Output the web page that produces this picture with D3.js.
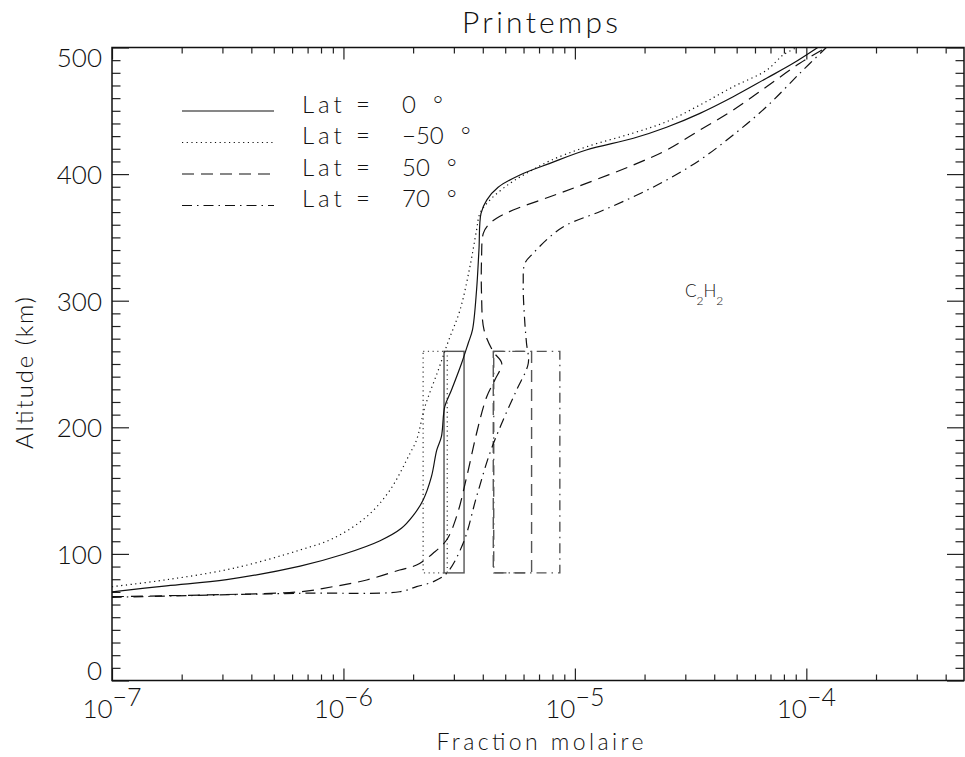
<!doctype html>
<html>
<head>
<meta charset="utf-8">
<title>Printemps - C2H2</title>
<script src="https://d3js.org/d3.v7.min.js"></script>
<style>
  body { margin: 0; background: #fff; }
  text { font-family: Lato, "DejaVu Sans", sans-serif; font-weight: 300; fill: #111; }
</style>
</head>
<body>
<svg width="965" height="757"></svg>
<script>

// Lat = 0 (solid)
var frac0 = [1.0e-7, 1.72e-7, 3.13e-7, 6.5e-7, 1.0e-6, 1.44e-6, 1.78e-6, 2.0e-6, 2.21e-6, 2.40e-6,
             2.53e-6, 2.65e-6, 2.74e-6, 2.93e-6, 3.24e-6, 3.46e-6, 3.61e-6, 3.76e-6, 3.85e-6, 3.93e-6,
             4.16e-6, 4.66e-6, 5.79e-6, 7.8e-6, 1.12e-5, 1.79e-5, 2.49e-5, 3.47e-5, 4.83e-5, 6.73e-5,
             8.77e-5, 1.12e-4];
var alt0  = [70, 74.8, 79.7, 90.4, 99.7, 110.4, 120.2, 130.2, 142.6, 161,
             182, 192.6, 216.3, 229.5, 250.6, 266.4, 276.9, 308.5, 340, 369,
             379.5, 389.6, 399.3, 408.5, 419, 428.3, 437, 448, 461.1, 475.7,
             487.5, 500];

// Lat = -50 (dotted)
var fracM50 = [1.0e-7, 1.72e-7, 3.34e-7, 6.5e-7, 9.04e-7, 1.26e-6, 1.59e-6, 1.94e-6, 2.07e-6, 2.25e-6,
               2.57e-6, 2.84e-6, 3.19e-6, 3.52e-6, 3.76e-6, 3.89e-6, 4.29e-6, 5.24e-6, 6.18e-6, 7.8e-6,
               1.12e-5, 1.79e-5, 2.49e-5, 3.47e-5, 4.83e-5, 6.73e-5, 7.94e-5, 9.1e-5];
var altM50  = [74.1, 79.6, 88.6, 103.1, 112.3, 129.4, 150.5, 179.5, 190, 216.3,
               245.3, 268, 292.7, 326.9, 355.8, 369, 379.5, 392.7, 400.6, 410.5,
               421.5, 432.5, 441.4, 454.6, 469, 482, 494.1, 500];

// Lat = 50 (dashed)
var frac50 = [1.0e-7, 2.4e-7, 6.5e-7, 9.0e-7, 1.26e-6, 1.75e-6, 2.07e-6, 2.44e-6, 2.79e-6, 3.08e-6,
              3.41e-6, 3.76e-6, 4.16e-6, 4.51e-6, 4.83e-6, 4.44e-6, 4.05e-6, 3.95e-6, 3.95e-6, 4.02e-6,
              4.22e-6, 4.59e-6, 5.41e-6, 7.8e-6, 1.12e-5, 1.79e-5, 2.49e-5, 3.47e-5, 4.83e-5,
              6.73e-5, 9.37e-5, 1.22e-4];
var alt50  = [66.2, 67.5, 70.1, 74.1, 79.4, 87.3, 91.2, 100.5, 111, 129.4,
              161, 195.3, 224.2, 237.4, 250.6, 259.7, 276.9, 305.8, 332.1, 353.2,
              359.8, 365.1, 371.6, 382.1, 392.7, 407.2, 419, 434.8, 450.6,
              469, 487.5, 500];

// Lat = 70 (dash-dot)
var frac70 = [1.0e-7, 6.5e-7, 1.75e-6, 2.07e-6, 2.44e-6, 2.79e-6, 3.29e-6, 3.76e-6, 4.29e-6, 4.90e-6,
              5.60e-6, 6.29e-6, 6.18e-6, 6.08e-6, 5.98e-6, 6.08e-6, 6.6e-6, 7.8e-6, 9.2e-6, 1.28e-5,
              1.79e-5, 2.49e-5, 3.47e-5, 4.83e-5, 6.73e-5, 9.37e-5, 1.22e-4];
var alt70  = [65.7, 68.9, 70.1, 74.1, 78, 84.7, 108.4, 145.2, 179.5, 205.8,
              229.5, 250.6, 266.4, 282.1, 313.7, 329.5, 337.4, 350.5, 359.8, 370.3,
              382.1, 395.3, 411.1, 430.9, 453.2, 479.6, 500];

// legend labels and observation boxes (same order: 0, -50, 50, 70)
var latLabels = ["0", "\u221250", "50", "70"];
var boxLow  = [2.72e-6, 2.21e-6, 4.44e-6, 4.46e-6];
var boxHigh = [3.32e-6, 2.81e-6, 6.50e-6, 8.61e-6];
var boxAlt  = [85, 260];

var xMajor = [1e-7, 1e-6, 1e-5, 1e-4];
var xExpo  = ["\u22127", "\u22126", "\u22125", "\u22124"];
var yMajor = [0, 100, 200, 300, 400, 500];

var series = [
    d3.zip(frac0, alt0),
    d3.zip(fracM50, altM50),
    d3.zip(frac50, alt50),
    d3.zip(frac70, alt70)
];
var dashes = [null, "1.2,3.5", "12,7", "10,5,1.5,5"];

var svg = d3.select("svg"),
    pLeft = 112, pRight = 964, pTop = 47.5, pBottom = 680.5;

var x = d3.scaleLog().domain([1e-7, 4.8e-4]).range([pLeft, pRight]);
var y = d3.scaleLinear().domain([0, 500]).range([pBottom, pTop]);

// tick values
var xMinor = [];
for (var e = -7; e <= -4; e++) {
    for (var m = 2; m <= 9; m++) {
        var v = m * Math.pow(10, e);
        if (v < 4.8e-4) xMinor.push(v);
    }
}
var yMinor = d3.range(0, 501, 10).filter(function(d) { return d % 100 != 0; });

function tickAxis(axis, vals, size) {
    return axis.tickValues(vals).tickSize(size).tickSizeOuter(0).tickFormat("");
}

// bottom / top ticks
svg.append("g").attr("transform", "translate(0," + pBottom + ")")
   .call(tickAxis(d3.axisTop(x), xMinor, 6));
svg.append("g").attr("transform", "translate(0," + pBottom + ")")
   .call(tickAxis(d3.axisTop(x), xMajor, 12));
svg.append("g").attr("transform", "translate(0," + pTop + ")")
   .call(tickAxis(d3.axisBottom(x), xMinor, 6));
svg.append("g").attr("transform", "translate(0," + pTop + ")")
   .call(tickAxis(d3.axisBottom(x), xMajor, 12));

// left / right ticks
svg.append("g").attr("transform", "translate(" + pLeft + ",0)")
   .call(tickAxis(d3.axisRight(y), yMinor, 8.5));
svg.append("g").attr("transform", "translate(" + pLeft + ",0)")
   .call(tickAxis(d3.axisRight(y), yMajor, 17));
svg.append("g").attr("transform", "translate(" + pRight + ",0)")
   .call(tickAxis(d3.axisLeft(y), yMinor, 8.5));
svg.append("g").attr("transform", "translate(" + pRight + ",0)")
   .call(tickAxis(d3.axisLeft(y), yMajor, 17));

svg.selectAll(".domain").remove();
svg.selectAll(".tick line").attr("stroke", "#222").attr("stroke-width", 1.2);

// frame
svg.append("rect")
   .attr("x", pLeft).attr("y", pTop)
   .attr("width", pRight - pLeft).attr("height", pBottom - pTop)
   .attr("fill", "none").attr("stroke", "#111").attr("stroke-width", 1.5);

// x tick labels 10^n
svg.selectAll(".xlab")
   .data(xMajor)
   .enter().append("text")
   .attr("class", "xlab")
   .attr("x", function(d) { return x(d); })
   .attr("y", 717.5)
   .attr("text-anchor", "middle")
   .attr("font-size", "26px")
   .each(function(d, i) {
       var t = d3.select(this);
       t.append("tspan").text("10");
       t.append("tspan").attr("dy", -12).attr("font-size", "25px").text(xExpo[i]);
   });

// y tick labels (end labels pulled inside, as in the original)
svg.selectAll(".ylab")
   .data(yMajor)
   .enter().append("text")
   .attr("class", "ylab")
   .attr("x", 102)
   .attr("y", function(d) { return Math.min(Math.max(y(d) + 10, 67), 680); })
   .attr("text-anchor", "end")
   .attr("font-size", "26px")
   .text(function(d) { return d; });

// titles
svg.append("text")
   .attr("x", 540).attr("y", 33)
   .attr("text-anchor", "middle")
   .attr("font-size", "30px")
   .attr("textLength", 156)
   .text("Printemps");

svg.append("text")
   .attr("x", 540).attr("y", 750)
   .attr("text-anchor", "middle")
   .attr("font-size", "23px")
   .attr("textLength", 207)
   .text("Fraction molaire");

svg.append("text")
   .attr("transform", "translate(33,373) rotate(-90)")
   .attr("text-anchor", "middle")
   .attr("font-size", "24px")
   .attr("textLength", 152)
   .text("Altitude (km)");

// species label
var sp = svg.append("text")
   .attr("x", 685).attr("y", 297)
   .attr("font-size", "17px");
sp.append("tspan").text("C");
sp.append("tspan").attr("dy", 8).attr("font-size", "12px").text("2");
sp.append("tspan").attr("dy", -8).text("H");
sp.append("tspan").attr("dy", 8).attr("font-size", "12px").text("2");

// curves and boxes
svg.append("clipPath").attr("id", "plotclip")
   .append("rect")
   .attr("x", pLeft).attr("y", pTop)
   .attr("width", pRight - pLeft).attr("height", pBottom - pTop);

var plot = svg.append("g").attr("clip-path", "url(#plotclip)");

plot.selectAll(".box")
    .data(boxLow)
    .enter().append("rect")
    .attr("class", "box")
    .attr("x", function(d) { return x(d); })
    .attr("y", y(boxAlt[1]))
    .attr("width", function(d, i) { return x(boxHigh[i]) - x(d); })
    .attr("height", y(boxAlt[0]) - y(boxAlt[1]))
    .attr("fill", "none")
    .attr("stroke", "#555")
    .attr("stroke-width", 1.4)
    .attr("stroke-dasharray", function(d, i) { return dashes[i]; });

var line = d3.line()
    .curve(d3.curveCatmullRom.alpha(0.5))
    .x(function(d) { return x(d[0]); })
    .y(function(d) { return y(d[1]); });

plot.selectAll(".curve")
    .data(series)
    .enter().append("path")
    .attr("class", "curve")
    .attr("d", line)
    .attr("fill", "none")
    .attr("stroke", "#111")
    .attr("stroke-width", 1.2)
    .attr("stroke-dasharray", function(d, i) { return dashes[i]; });

// legend
var leg = svg.append("g");
latLabels.forEach(function(lab, i) {
    var ly = 111 + i * 31.5;
    leg.append("line")
       .attr("x1", 182).attr("x2", 274)
       .attr("y1", ly).attr("y2", ly)
       .attr("stroke", "#111").attr("stroke-width", 1.2)
       .attr("stroke-dasharray", dashes[i]);
    leg.append("text")
       .attr("x", 302).attr("y", ly + 1.5)
       .attr("font-size", "24px")
       .attr("textLength", 68)
       .text("Lat =");
    var val = leg.append("text")
       .attr("x", 402).attr("y", ly + 1.5)
       .attr("font-size", "24px")
       .text(lab);
    var w = val.node().getComputedTextLength();
    leg.append("text")
       .attr("x", 402 + w + 17).attr("y", ly + 1.5)
       .attr("font-size", "24px")
       .text("\u00b0");
});

</script>
</body>
</html>
